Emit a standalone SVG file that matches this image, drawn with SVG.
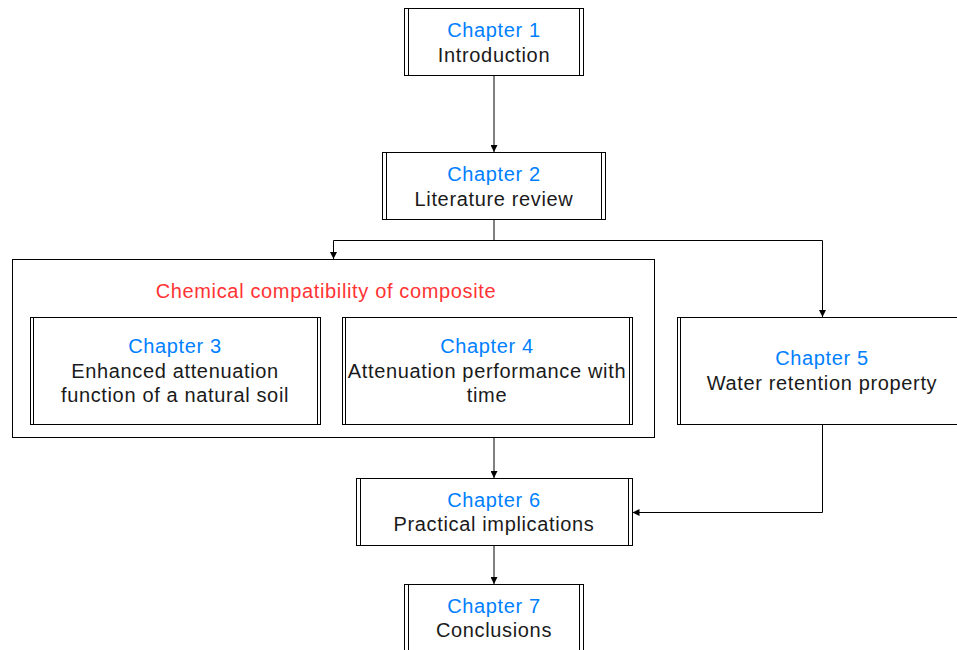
<svg xmlns="http://www.w3.org/2000/svg" width="957" height="650" viewBox="0 0 957 650">
<defs>
<marker id="arr" viewBox="0 0 10 10" refX="10" refY="5" markerWidth="7" markerHeight="7" orient="auto" markerUnits="userSpaceOnUse">
<path d="M0,0 L10,5 L0,10 Z" fill="#000"/>
</marker>
<style>
.box{fill:#fff;stroke:#000;stroke-width:1}
.ln{stroke:#000;stroke-width:1;fill:none}
.t{font-family:"Liberation Sans",Arial,sans-serif;font-size:20px;letter-spacing:0.65px;text-anchor:middle;fill:#1a1a1a}
.b{fill:#007FFF}
.r{fill:#FF3333}
.c{fill:none;stroke:#000;stroke-width:1;marker-end:url(#arr)}
</style>
</defs>
<rect width="957" height="650" fill="#fff"/>
<g id="container">
<rect class="box" x="12.5" y="259.5" width="642" height="178"/>
<text class="t r" x="326" y="298">Chemical compatibility of composite</text>
</g>
<g id="connectors">
<path class="c" d="M494,75.5 V152"/>
<path class="c" d="M494,219.5 V240.5 H333.5 V259"/>
<path class="c" d="M494,240.5 H822.5 V317"/>
<path class="c" d="M494,437.5 V478"/>
<path class="c" d="M822.5,424.5 V512.5 H632.5"/>
<path class="c" d="M494,545.5 V584"/>
</g>
<g id="ch1">
<rect class="box" x="404.5" y="8.5" width="179" height="67"/>
<path class="ln" d="M408.5,8.5 V75.5 M579.5,8.5 V75.5"/>
<text class="t b" x="494" y="37">Chapter 1</text>
<text class="t" x="494" y="62">Introduction</text>
</g>
<g id="ch2">
<rect class="box" x="382.5" y="152.5" width="223" height="67"/>
<path class="ln" d="M386.5,152.5 V219.5 M601.5,152.5 V219.5"/>
<text class="t b" x="494" y="181">Chapter 2</text>
<text class="t" x="494" y="206">Literature review</text>
</g>
<g id="ch3">
<rect class="box" x="30.5" y="317.5" width="290" height="107"/>
<path class="ln" d="M33.5,317.5 V424.5 M317.5,317.5 V424.5"/>
<text class="t b" x="175" y="353">Chapter 3</text>
<text class="t" x="175" y="378">Enhanced attenuation</text>
<text class="t" x="175" y="402">function of a natural soil</text>
</g>
<g id="ch4">
<rect class="box" x="342.5" y="317.5" width="290" height="107"/>
<path class="ln" d="M345.5,317.5 V424.5 M629.5,317.5 V424.5"/>
<text class="t b" x="487" y="353">Chapter 4</text>
<text class="t" x="487" y="378">Attenuation performance with</text>
<text class="t" x="487" y="402">time</text>
</g>
<g id="ch5">
<rect class="box" x="677.5" y="317.5" width="290" height="107"/>
<path class="ln" d="M680.5,317.5 V424.5 M964.5,317.5 V424.5"/>
<text class="t b" x="822" y="365">Chapter 5</text>
<text class="t" x="822" y="390">Water retention property</text>
</g>
<g id="ch6">
<rect class="box" x="356.5" y="478.5" width="276" height="67"/>
<path class="ln" d="M360.5,478.5 V545.5 M628.5,478.5 V545.5"/>
<text class="t b" x="494" y="507">Chapter 6</text>
<text class="t" x="494" y="531">Practical implications</text>
</g>
<g id="ch7">
<rect class="box" x="404.5" y="584.5" width="179" height="67"/>
<path class="ln" d="M408.5,584.5 V651.5 M579.5,584.5 V651.5"/>
<text class="t b" x="494" y="613">Chapter 7</text>
<text class="t" x="494" y="637">Conclusions</text>
</g>
</svg>
